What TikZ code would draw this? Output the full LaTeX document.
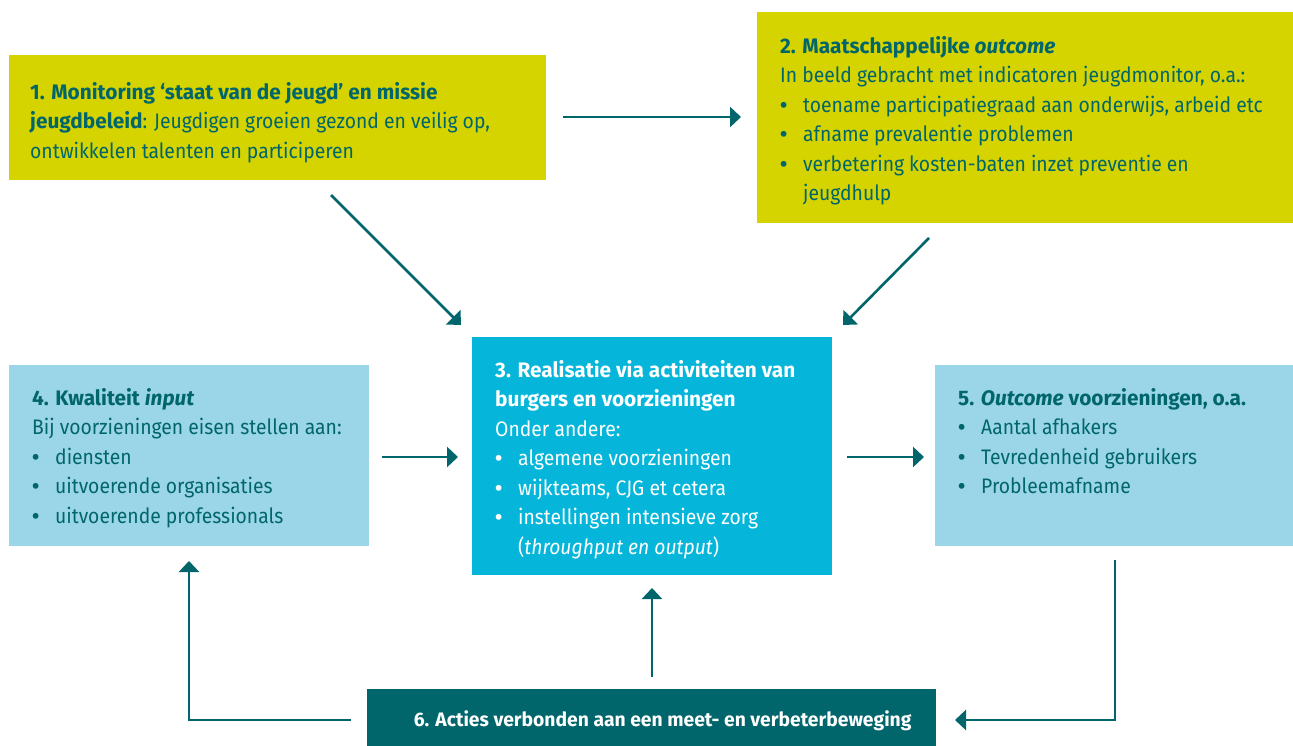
\documentclass[tikz,border=0pt]{standalone}
\usepackage{fontspec}
\setmainfont{Fira Sans}[FakeStretch=0.92,BoldFeatures={FakeStretch=0.99},BoldItalicFeatures={FakeStretch=0.99}]
\usetikzlibrary{arrows.meta,calc}
\definecolor{yel}{HTML}{D5D300}
\definecolor{lblue}{HTML}{9BD5E8}
\definecolor{cyanb}{HTML}{05B6DA}
\definecolor{teal}{HTML}{00666B}
\newcommand{\bul}{\makebox[23pt][l]{\textbf{\textbullet}}}
\newcommand{\ind}{\hspace*{23pt}}
\begin{document}
\begin{tikzpicture}[x=1pt,y=-1pt,
  box/.style={draw=none,inner sep=0pt,anchor=north west},
  txt/.style={inner sep=0pt,anchor=north west,align=left,text=teal,
    font=\fontsize{21}{29.5}\selectfont},
  conn/.style={draw=teal,line width=2.6pt,-{Triangle[length=11pt,width=20pt]}}]
\useasboundingbox (0,0) rectangle (1293,746);
% boxes
\node[box,fill=yel,minimum width=537pt,minimum height=125pt] (b1) at (9,55) {};
\node[box,fill=yel,minimum width=536pt,minimum height=211pt] (b2) at (757,12) {};
\node[box,fill=cyanb,minimum width=360pt,minimum height=238pt] (b3) at (472,337) {};
\node[box,fill=lblue,minimum width=360pt,minimum height=181pt] (b4) at (9,365) {};
\node[box,fill=lblue,minimum width=358pt,minimum height=181pt] (b5) at (935,365) {};
\node[box,fill=teal,minimum width=569pt,minimum height=57pt] (b6) at (367,689) {};
% texts
\node[txt] (t1) at (30,82) {\textbf{1. Monitoring ‘staat van de jeugd’ en missie}\\
\textbf{jeugdbeleid}: Jeugdigen groeien gezond en veilig op,\\
ontwikkelen talenten en participeren};
\node[txt] (t2) at (780,36) {\textbf{2. Maatschappelijke \textit{outcome}}\\
In beeld gebracht met indicatoren jeugdmonitor, o.a.:\\
\bul toename participatiegraad aan onderwijs, arbeid etc\\
\bul afname prevalentie problemen\\
\bul verbetering kosten-baten inzet preventie en\\
\ind jeugdhulp};
\node[txt,text=white] (t3) at (495,360) {\textbf{3. Realisatie via activiteiten van}\\
\textbf{burgers en voorzieningen}\\
Onder andere:\\
\bul algemene voorzieningen\\
\bul wijkteams, CJG et cetera\\
\bul instellingen intensieve zorg\\
\ind (\textit{throughput en output})};
\node[txt] (t4) at (32,388) {\textbf{4. Kwaliteit \textit{input}}\\
Bij voorzieningen eisen stellen aan:\\
\bul diensten\\
\bul uitvoerende organisaties\\
\bul uitvoerende professionals};
\node[txt] (t5) at (958,388) {\textbf{5. \textit{Outcome} voorzieningen, o.a.}\\
\bul Aantal afhakers\\
\bul Tevredenheid gebruikers\\
\bul Probleemafname};
\node[txt,anchor=center,text=white,font=\fontsize{19.5}{29.5}\selectfont\bfseries] (t6) at ($(b6.center)+(11,3)$) {6. Acties verbonden aan een meet- en verbeterbeweging};
% connector coordinates
\coordinate (p12a) at (563,117);
\coordinate (p12b) at (741,117);
\coordinate (p13a) at (331,195);
\coordinate (p13b) at (461,325);
\coordinate (p23a) at (929,238);
\coordinate (p23b) at (843,325);
\coordinate (p43a) at (382,457);
\coordinate (p43b) at (458,457);
\coordinate (p35a) at (847,457);
\coordinate (p35b) at (924,457);
\coordinate (p64a) at (351,720);
\coordinate (p64c) at (189,720);
\coordinate (p64b) at (189,561);
\coordinate (p63a) at (652,677);
\coordinate (p63b) at (652,588);
\coordinate (p56a) at (1115,560);
\coordinate (p56c) at (1115,720);
\coordinate (p56b) at (955,720);
\draw[conn] (p12a) -- (p12b);
\draw[conn] (p13a) -- (p13b);
\draw[conn] (p23a) -- (p23b);
\draw[conn] (p43a) -- (p43b);
\draw[conn] (p35a) -- (p35b);
\draw[conn] (p64a) -- (p64c) -- (p64b);
\draw[conn] (p63a) -- (p63b);
\draw[conn] (p56a) -- (p56c) -- (p56b);
\end{tikzpicture}
\end{document}
